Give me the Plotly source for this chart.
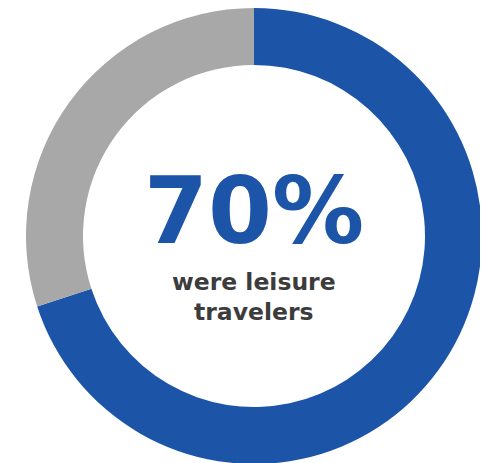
import plotly.graph_objects as go

labels = ["Leisure travelers", "Other travelers"]
values = [70, 30]
colors = ["#1C55A8", "#A8A8A8"]
headline = "70%"
caption_lines = ["were leisure", "travelers"]

fig = go.Figure(go.Pie(
    labels=labels,
    values=values,
    hole=0.75,
    sort=False,
    direction="clockwise",
    rotation=0,
    marker=dict(colors=colors, line=dict(width=0)),
    textinfo="none",
    hoverinfo="label+percent",
    showlegend=False,
))

font_family = "DejaVu Sans, Open Sans, sans-serif"
fig.add_annotation(x=0.5, y=0.553, xref="paper", yref="paper", text=headline,
                   showarrow=False, xanchor="center", yanchor="middle",
                   font=dict(family=font_family, size=92, color="#1C55A8", weight=800))
fig.add_annotation(x=0.5, y=0.399, xref="paper", yref="paper", text=caption_lines[0],
                   showarrow=False, xanchor="center", yanchor="middle",
                   font=dict(family=font_family, size=23.5, color="#3C3C3C", weight=700))
fig.add_annotation(x=0.5, y=0.333, xref="paper", yref="paper", text=caption_lines[1],
                   showarrow=False, xanchor="center", yanchor="middle",
                   font=dict(family=font_family, size=23.5, color="#3C3C3C", weight=700))

fig.update_layout(
    width=488, height=463,
    margin=dict(l=18, r=14, t=0, b=7, autoexpand=False),
    paper_bgcolor="white",
    plot_bgcolor="white",
)

fig.write_html("out.html")
